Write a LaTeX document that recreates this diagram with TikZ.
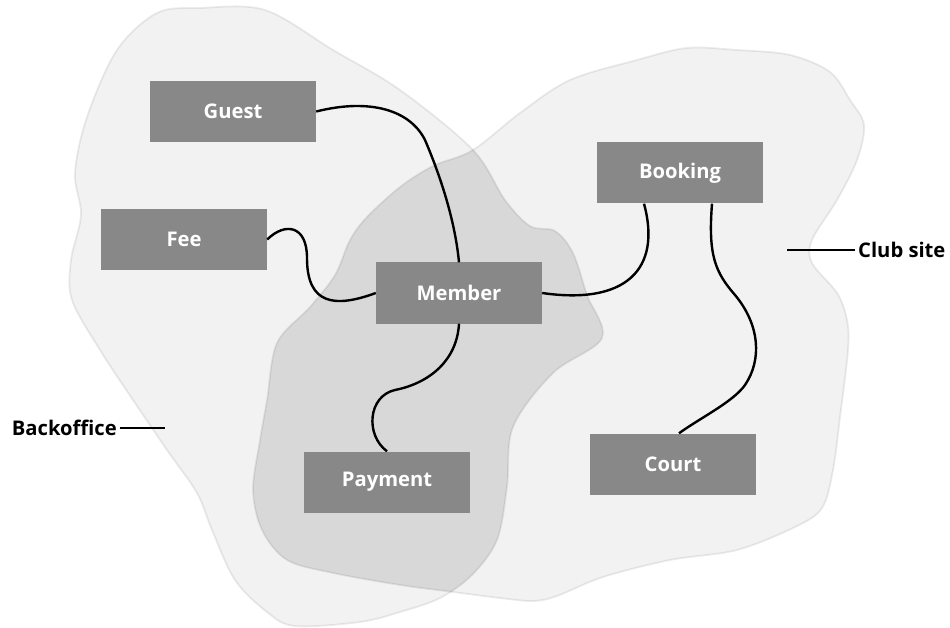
\documentclass[tikz,border=0pt]{standalone}
\usepackage{fontspec}
\setmainfont{Open Sans}[BoldFont={Open Sans Bold}]
\begin{document}
\begin{tikzpicture}[x=1pt,y=-1pt,
  entity/.style={fill=boxgray, text=white, minimum width=166pt, minimum height=61pt,
    inner sep=0pt, font=\fontsize{20.2}{24}\selectfont\bfseries},
  conn/.style={draw=black, line width=2.4pt},
  lbl/.style={text=black, inner sep=3pt, font=\fontsize{20.2}{24}\selectfont\bfseries},
  lblline/.style={draw=black, line width=2.5pt},
  blobfill/.style={fill=lightblob},
  blobline/.style={draw=black, draw opacity=0.075, line width=1.8pt}]
\definecolor{boxgray}{HTML}{888888}
\definecolor{lightblob}{HTML}{F2F2F2}
\definecolor{darkblob}{HTML}{D8D8D8}
\newcommand{\BOpath}{plot[smooth cycle, tension=0.55] coordinates {
 (157,13) (200,8) (265,10) (333,50) (400,90) (473,150) (505,200) (530,226) (555,231)
 (573,253) (587,295) (602,338) (553,373) (513,427) (507,487) (497,540) (472,575)
 (440,598) (400,612) (360,622) (295,626) (267,612) (235,580) (212,530) (197,493)
 (167,450) (133,400) (100,350) (72,300) (71,260) (81,215) (75,173) (87,117) (117,50)}}
\newcommand{\CSpath}{plot[smooth cycle, tension=0.55] coordinates {
 (473,150) (520,113) (570,80) (637,60) (687,48) (737,50) (790,55) (830,72) (850,100)
 (864,125) (857,160) (837,200) (812,240) (812,263) (837,293) (847,320) (848,350)
 (840,417) (833,470) (822,508) (795,527) (737,550) (670,560) (603,577) (557,596)
 (533,601) (500,598) (453,592) (400,585) (333,573) (287,560) (262,530) (253,490)
 (260,440) (267,400) (277,343) (310,307) (335,275) (350,240) (367,217) (400,187) (433,166)}}
\useasboundingbox (0,0) rectangle (950,628);
% blobs
\fill[blobfill] \BOpath;
\fill[blobfill] \CSpath;
\begin{scope}
  \clip \BOpath;
  \fill[darkblob] \CSpath;
\end{scope}
\draw[blobline] \BOpath;
\draw[blobline] \CSpath;
% entities
\node[entity] (guest) at (233,111.5) {Guest};
\node[entity] (fee) at (184,239.5) {Fee};
\node[entity] (member) at (459,293) {Member};
\node[entity] (booking) at (680,173) {Booking};
\node[entity] (payment) at (387,482) {Payment};
\node[entity] (court) at (673,464) {Court};
% connectors
\draw[conn] (guest.east) .. controls (370,98) and (410,110) .. (425,140)
  .. controls (440,175) and (455,220) .. (member.north);
\draw[conn] (fee.east) .. controls (285,222) and (307,225) .. (307,258)
  .. controls (307,305) and (335,308) .. (member.west);
\draw[conn] (member.east) .. controls (625,305) and (662,270) .. ([xshift=-36pt]booking.south);
\draw[conn] ([xshift=32pt]booking.south) .. controls (708,255) and (715,272) .. (735,295)
  .. controls (760,325) and (762,360) .. (745,385)
  .. controls (733,402) and (700,418) .. ([xshift=6pt]court.north);
\draw[conn] (member.south) .. controls (457,360) and (430,383) .. (395,390)
  .. controls (368,396) and (365,435) .. (payment.north);
% labels
\node[lbl, anchor=east] (bolabel) at (120,428) {Backoffice};
\coordinate (boend) at (165,428);
\draw[lblline] (bolabel.east) -- (boend);
\node[lbl, anchor=west] (cslabel) at (855,250) {Club site};
\coordinate (csend) at (787,250);
\draw[lblline] (cslabel.west) -- (csend);
\end{tikzpicture}
\end{document}
